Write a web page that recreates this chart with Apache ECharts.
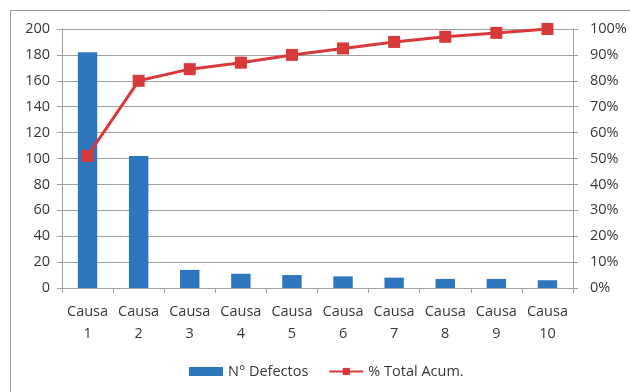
<!DOCTYPE html>
<html>
<head>
<meta charset="utf-8">
<script src="https://cdn.jsdelivr.net/npm/echarts@6/dist/echarts.min.js"></script>
<style>
  html, body { margin: 0; padding: 0; background: #ffffff; }
  #chart { width: 630px; height: 392px; }
</style>
</head>
<body>
<div id="chart"></div>
<script>
// Pareto chart: defects per cause and cumulative share
var categories = ['Causa\n1', 'Causa\n2', 'Causa\n3', 'Causa\n4', 'Causa\n5',
                  'Causa\n6', 'Causa\n7', 'Causa\n8', 'Causa\n9', 'Causa\n10'];
var defectos = [182, 102, 14, 11, 10, 9, 8, 7, 7, 6];
var acumulado = [51, 80, 84.5, 87, 90, 92.5, 95, 97, 98.5, 100];
var leftTicks = { min: 0, max: 200, interval: 20 };
var rightTicks = { min: 0, max: 100, interval: 10 };

var textColor = '#383838';
var fontFamily = '"Open Sans", "Noto Sans", sans-serif';
var fontSize = 14.5;
var gridColor = '#a0a0a0';

var chart = echarts.init(document.getElementById('chart'), null, { renderer: 'canvas' });
chart.setOption({
  animation: false,
  backgroundColor: '#ffffff',
  textStyle: { fontFamily: fontFamily },
  graphic: [{
    type: 'rect',
    shape: { x: 10.5, y: 10.5, width: 640, height: 400 },
    style: { fill: 'none', stroke: '#9a9a9a', lineWidth: 1 },
    z: -1
  }],
  grid: { left: 62, right: 57, top: 29, bottom: 104, containLabel: false },
  legend: {
    top: 359,
    left: 184,
    itemGap: 20,
    itemWidth: 34,
    itemHeight: 9,
    textStyle: { color: textColor, fontSize: fontSize, fontFamily: fontFamily },
    data: [
      { name: 'N° Defectos', icon: 'rect' },
      { name: '% Total Acum.' }
    ]
  },
  xAxis: {
    type: 'category',
    data: categories,
    axisLine: { lineStyle: { color: gridColor } },
    axisTick: { show: true, length: 5, alignWithLabel: false, lineStyle: { color: gridColor } },
    axisLabel: { color: textColor, fontSize: fontSize, lineHeight: 22, margin: 13, interval: 0 }
  },
  yAxis: [{
    type: 'value',
    min: leftTicks.min, max: leftTicks.max, interval: leftTicks.interval,
    axisLine: { show: true, lineStyle: { color: gridColor } },
    axisTick: { show: true, length: 5, lineStyle: { color: gridColor } },
    splitLine: { lineStyle: { color: gridColor, width: 1 } },
    axisLabel: { color: textColor, fontSize: fontSize, margin: 12 }
  }, {
    type: 'value',
    min: rightTicks.min, max: rightTicks.max, interval: rightTicks.interval,
    position: 'right',
    axisLine: { show: true, lineStyle: { color: gridColor } },
    axisTick: { show: true, length: 5, lineStyle: { color: gridColor } },
    splitLine: { show: false },
    axisLabel: { color: textColor, fontSize: fontSize, margin: 17, formatter: '{value}%' }
  }],
  series: [{
    name: 'N° Defectos',
    type: 'bar',
    data: defectos,
    yAxisIndex: 0,
    barWidth: '38%',
    itemStyle: { color: '#2e77bf' }
  }, {
    name: '% Total Acum.',
    type: 'line',
    data: acumulado,
    yAxisIndex: 1,
    symbol: 'rect',
    symbolSize: 12,
    lineStyle: { color: '#d8393a', width: 3 },
    itemStyle: { color: '#d8393a' },
    z: 5
  }]
});
</script>
</body>
</html>
